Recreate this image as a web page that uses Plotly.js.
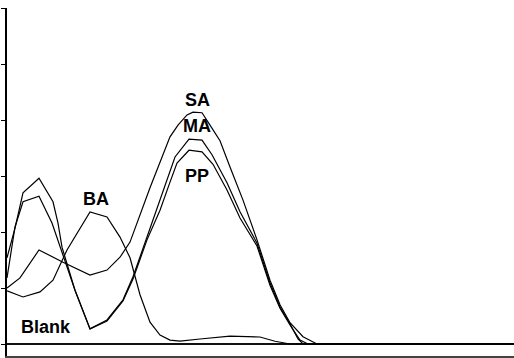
<!DOCTYPE html>
<html>
<head>
<meta charset="utf-8">
<script src="https://cdn.plot.ly/plotly-3.0.1.min.js"></script>
<style>html,body{margin:0;padding:0;background:#fff;}#chart{width:514px;height:358px;}</style>
</head>
<body>
<div id="chart"></div>
<script>
// Absorbance-type spectra (arbitrary x units)
const saX = [200,213,232,256,283,300,313,323,343,363,371,380,386,395,403,413,423,436,450,463,473,483,496,510,707];
const saY = [1.00,1.18,1.68,1.46,1.23,1.32,1.55,1.82,2.79,3.70,3.91,4.09,4.14,4.13,3.91,3.63,3.16,2.57,1.86,1.14,0.70,0.38,0.13,0,0];

const maX = [200,208,216,232,246,251,255,268,283,300,316,326,340,350,360,368,382,395,405,420,433,450,463,473,483,491,496,707];
const maY = [1.54,2.07,2.70,2.96,2.54,2.16,1.73,0.96,0.27,0.43,0.79,1.20,1.91,2.43,2.96,3.34,3.66,3.64,3.38,2.88,2.36,1.80,1.09,0.66,0.36,0.09,0,0];

const ppX = [200,203,208,216,232,245,253,268,283,300,316,326,340,353,363,370,382,395,406,420,433,450,463,473,483,493,501,707];
const ppY = [1.18,1.55,2.09,2.54,2.64,2.16,1.73,0.96,0.27,0.41,0.77,1.16,1.86,2.39,2.89,3.23,3.46,3.43,3.21,2.75,2.25,1.75,1.05,0.64,0.34,0.07,0,0];

const baX = [200,216,233,246,260,270,283,300,313,323,333,343,353,363,373,393,423,453,468,483,707];
const baY = [0.95,0.84,0.93,1.14,1.68,1.98,2.36,2.27,1.91,1.54,0.88,0.39,0.16,0.07,0.05,0.09,0.14,0.125,0.05,0,0];

const blankX = [200,707];
const blankY = [0,0];

const labels = ['SA','MA','PP','BA','Blank'];
const labelX = [390,390,390,289,239];
const labelY = [4.36,3.89,3.00,2.59,0.30];

const line = {color:'#000', width:1.2};
const traces = [
  {x:blankX, y:blankY, mode:'lines', line:{color:'#111', width:1.8}, name:'Blank'},
  {x:saX, y:saY, mode:'lines', line:line, name:'SA'},
  {x:maX, y:maY, mode:'lines', line:line, name:'MA'},
  {x:ppX, y:ppY, mode:'lines', line:line, name:'PP'},
  {x:baX, y:baY, mode:'lines', line:line, name:'BA'}
];

const annotations = labels.map((t,i)=>({
  x:labelX[i], y:labelY[i], xref:'x', yref:'y', text:'<b>'+t+'</b>',
  showarrow:false, font:{family:'Liberation Sans, Arial, sans-serif', size:18, color:'#000'}
}));

const layout = {
  width:514, height:358,
  margin:{l:7, r:0, t:8, b:2, pad:0},
  paper_bgcolor:'#fff', plot_bgcolor:'#fff',
  showlegend:false,
  xaxis:{range:[200,707], showline:true, linecolor:'#444', linewidth:1.5, ticks:'', showticklabels:false, showgrid:false, zeroline:false, fixedrange:true},
  yaxis:{range:[-0.214,6], showline:true, linecolor:'#000', linewidth:2, ticks:'outside', ticklen:4, tickwidth:1, tickcolor:'#000', dtick:1, tick0:0, showticklabels:false, showgrid:false, zeroline:false, fixedrange:true},
  annotations:annotations
};

Plotly.newPlot('chart', traces, layout, {staticPlot:true, displayModeBar:false});
</script>
</body>
</html>
